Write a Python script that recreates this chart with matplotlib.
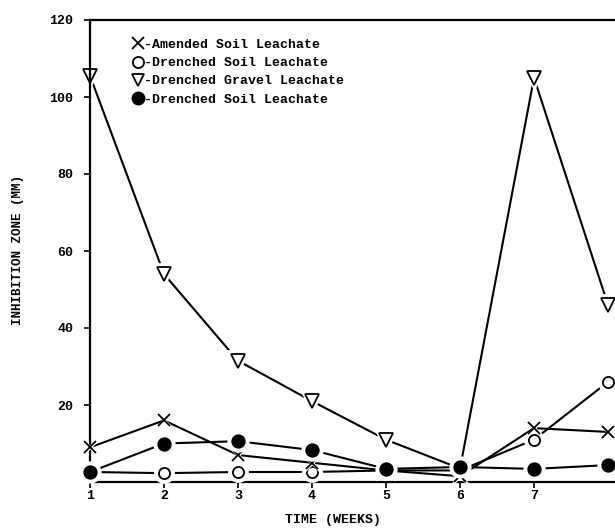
import numpy as np
import matplotlib
matplotlib.use('Agg')
import matplotlib.pyplot as plt

weeks = [1, 2, 3, 4, 5, 6, 7, 8]
amended_soil = [9, 16, 7, 5, 3, 1.5, 14, 13]
drenched_soil_open = [2.6, 2.3, 2.6, 2.6, 3, 3, 11, 26]
drenched_gravel = [105.5, 54, 31.5, 21, 11, 3.5, 105, 46]
drenched_soil_filled = [2.6, 10, 10.6, 8.3, 3.4, 3.9, 3.4, 4.4]

labels = ['-Amended Soil Leachate', '-Drenched Soil Leachate',
          '-Drenched Gravel Leachate', '-Drenched Soil Leachate']

mono = 'Liberation Mono'

fig = plt.figure(figsize=(6.15, 5.3), dpi=100)
# axes runs off the right edge, like the cropped scan
ax = fig.add_axes([90 / 615, 48 / 530, 555 / 615, 462 / 530])


def draw(y, marker, ms, filled, z):
    ax.plot(weeks, y, color='black', lw=1.5, zorder=z, clip_on=False)
    # white halo so lines stop short of the markers
    ax.plot(weeks, y, ls='none', marker=marker, ms=ms + 5, mfc='white',
            mec='white', mew=2, zorder=z + 0.1, clip_on=False)
    ax.plot(weeks, y, ls='none', marker=marker, ms=ms,
            mfc='black' if filled else 'white', mec='black', mew=1.3,
            zorder=z + 0.2, clip_on=False)


draw(drenched_gravel, 'v', 10, False, 2)
draw(drenched_soil_open, 'o', 8, False, 3)
draw(amended_soil, 'x', 9, False, 4)
draw(drenched_soil_filled, 'o', 9, True, 5)

handles = [
    plt.Line2D([], [], ls='none', marker='x', ms=9, mec='black', mew=1.3),
    plt.Line2D([], [], ls='none', marker='o', ms=8, mfc='white', mec='black', mew=1.3),
    plt.Line2D([], [], ls='none', marker='v', ms=9, mfc='white', mec='black', mew=1.3),
    plt.Line2D([], [], ls='none', marker='o', ms=9, mfc='black', mec='black'),
]
ax.legend(handles, labels, loc='upper left', bbox_to_anchor=(0.055, 0.985),
          frameon=False, handlelength=0.8, handletextpad=0.1,
          labelspacing=0.45, prop={'family': mono, 'size': 9.5, 'weight': 'bold'})

ax.set_xlim(1, 8.5)
ax.set_ylim(0, 120)
ax.set_xticks(weeks[:7])
ax.set_yticks([20, 40, 60, 80, 100, 120])
ax.tick_params(axis='both', direction='out', length=4, width=1.2,
               labelsize=9.5)
ax.tick_params(axis='y', pad=8)
ax.tick_params(axis='x', pad=2)
for t in ax.get_xticklabels() + ax.get_yticklabels():
    t.set_family(mono)
    t.set_weight('bold')

for s in ['left', 'top', 'bottom']:
    ax.spines[s].set_linewidth(1.6)
ax.spines['right'].set_visible(False)

fig.text(333 / 615, 1 - 520 / 530, 'TIME (WEEKS)', ha='center', va='center',
         family=mono, size=9.5, weight='bold')
fig.text(18 / 615, 1 - 250 / 530, 'INHIBITION ZONE (MM)', ha='center',
         va='center', rotation=90, family=mono, size=9, weight='bold')

fig.savefig('out.png', dpi=100)
